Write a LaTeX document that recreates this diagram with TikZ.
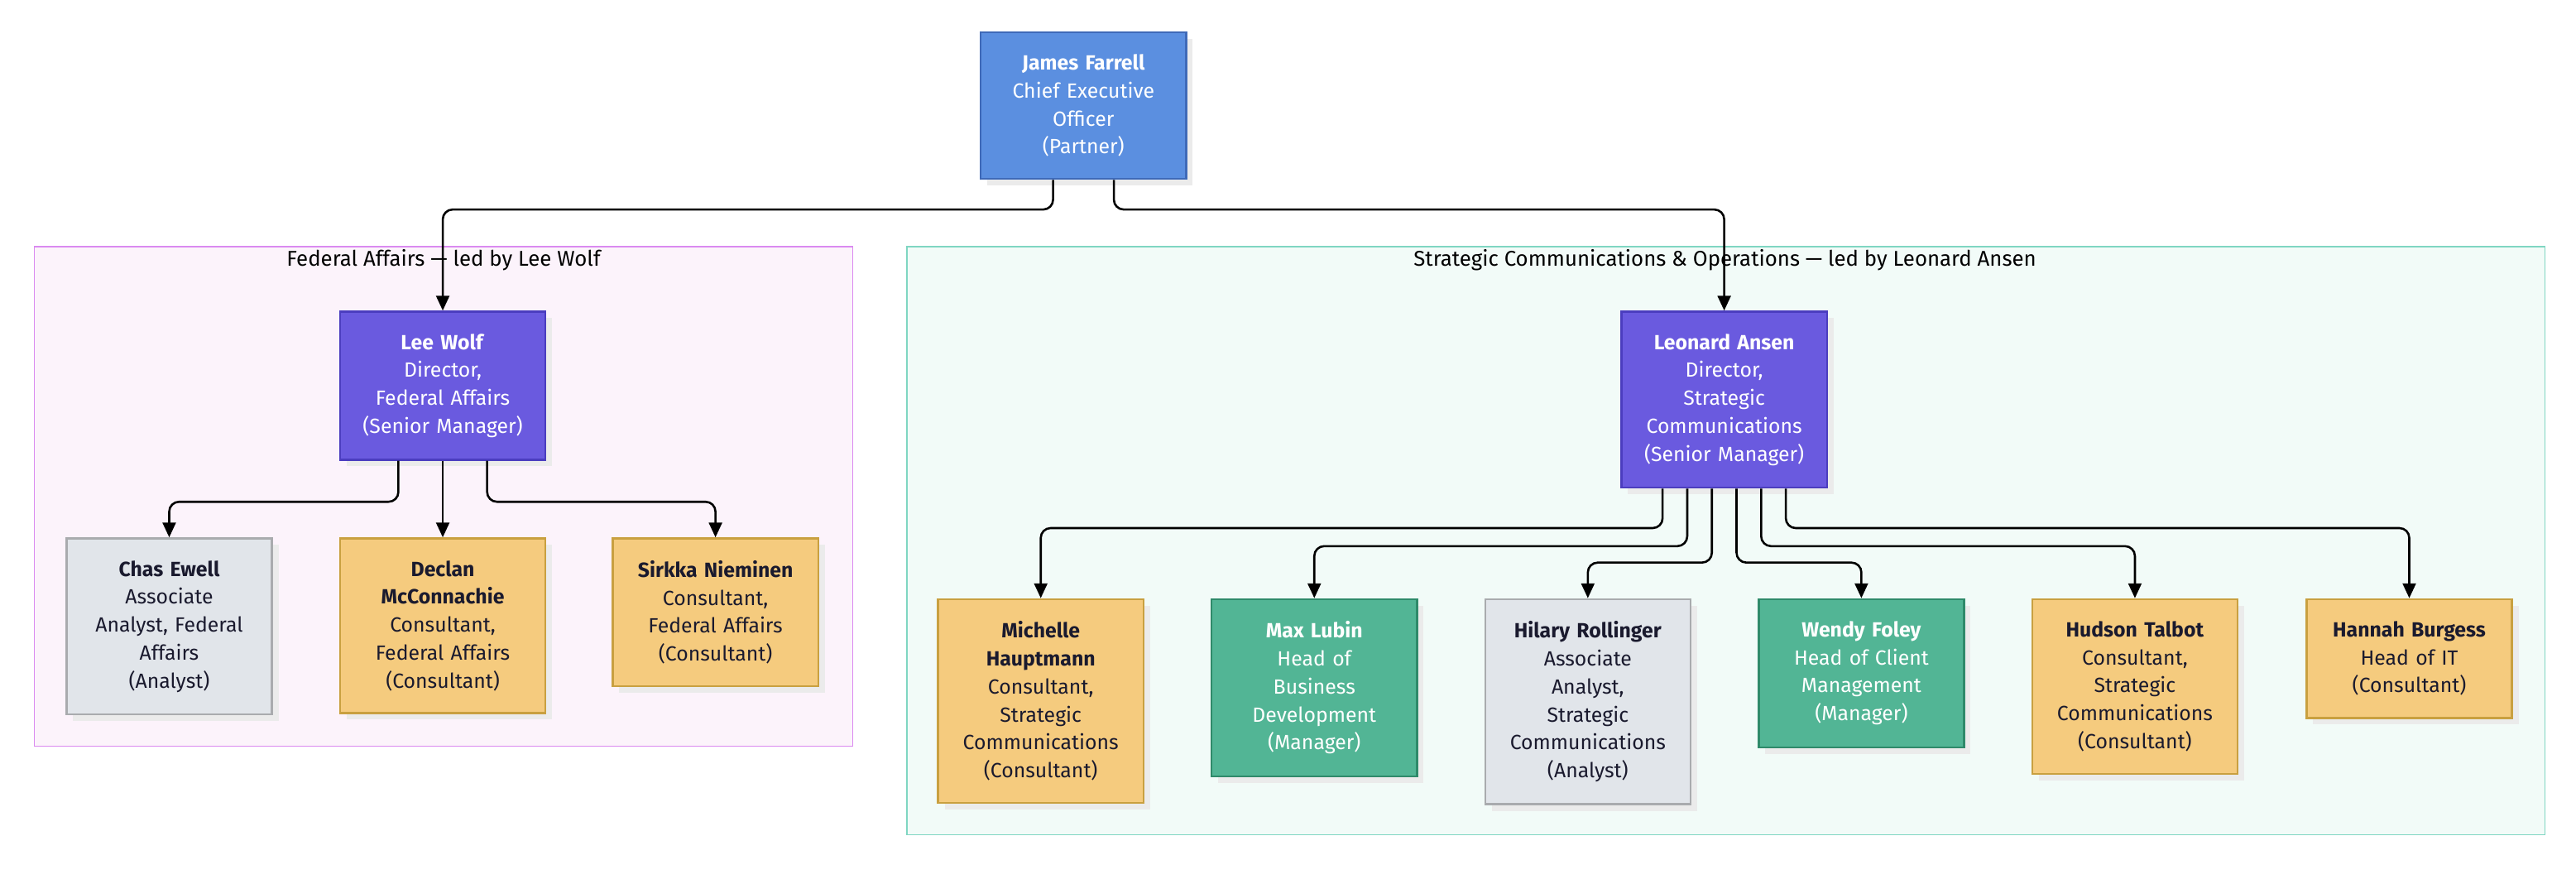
\documentclass[tikz,border=0pt]{standalone}
\usepackage{fontspec}
\setmainfont{Fira Sans}
\usetikzlibrary{arrows.meta,shadows}
\definecolor{ceoFill}{HTML}{5B8FE0}\definecolor{ceoLine}{HTML}{3F6AB8}
\definecolor{dirFill}{HTML}{6A5ADF}\definecolor{dirLine}{HTML}{4B3DBF}
\definecolor{anaFill}{HTML}{E1E5EA}\definecolor{anaLine}{HTML}{A9ABAE}
\definecolor{conFill}{HTML}{F5CB7E}\definecolor{conLine}{HTML}{C9A040}
\definecolor{mgrFill}{HTML}{52B595}\definecolor{mgrLine}{HTML}{2F8A6A}
\definecolor{fedFill}{HTML}{FCF3FB}\definecolor{fedLine}{HTML}{DA8AF0}
\definecolor{strFill}{HTML}{F2FBF8}\definecolor{strLine}{HTML}{7FD6C2}
\definecolor{ink}{HTML}{1A1A2E}
\tikzset{
  person/.style={draw, line width=1.2pt, anchor=north, minimum width=125pt,
    text width=116pt, align=center, inner ysep=13.5pt,
    font=\fontsize{12.5}{17}\selectfont,
    drop shadow={shadow xshift=4pt, shadow yshift=-4pt, fill=black!8, opacity=1}},
  ceo/.style={person, fill=ceoFill, draw=ceoLine, text=white},
  director/.style={person, fill=dirFill, draw=dirLine, text=white},
  analyst/.style={person, fill=anaFill, draw=anaLine, text=ink},
  consultant/.style={person, fill=conFill, draw=conLine, text=ink},
  manager/.style={person, fill=mgrFill, draw=mgrLine, text=white},
  link/.style={draw, line width=1.3pt, rounded corners=6pt, -{Triangle[length=9pt,width=8pt]}},
  cluster/.style={line width=0.8pt},
  clustertitle/.style={font=\fontsize{13}{15}\selectfont, text=black}
}
\begin{document}
\begin{tikzpicture}[x=1pt,y=-1pt]
  \useasboundingbox (0,0) rectangle (1568,537.5);

  % groups
  \draw[cluster, fill=fedFill, draw=fedLine] (21,150) rectangle (519,454);
  \node[clustertitle] (fedtitle) at (270,158) {Federal Affairs — led by Lee Wolf};
  \draw[cluster, fill=strFill, draw=strLine] (552,150) rectangle (1549,508);
  \node[clustertitle] (strtitle) at (1050,158) {Strategic Communications \& Operations — led by Leonard Ansen};

  % people
  \node[ceo] (james) at (659.5,19) {\textbf{James Farrell}\\Chief Executive\\Officer\\(Partner)};

  \node[director] (lee) at (269.5,189) {\textbf{Lee Wolf}\\Director,\\Federal Affairs\\(Senior Manager)};
  \node[analyst] (chas) at (103,327) {\textbf{Chas Ewell}\\Associate\\Analyst, Federal\\Affairs\\(Analyst)};
  \node[consultant] (declan) at (269.5,327) {\textbf{Declan}\\\textbf{McConnachie}\\Consultant,\\Federal Affairs\\(Consultant)};
  \node[consultant] (sirkka) at (435.5,327) {\textbf{Sirkka Nieminen}\\Consultant,\\Federal Affairs\\(Consultant)};

  \node[director] (leonard) at (1049.5,189) {\textbf{Leonard Ansen}\\Director,\\Strategic\\Communications\\(Senior Manager)};
  \node[consultant] (michelle) at (633.5,364) {\textbf{Michelle}\\\textbf{Hauptmann}\\Consultant,\\Strategic\\Communications\\(Consultant)};
  \node[manager] (max) at (800,364) {\textbf{Max Lubin}\\Head of\\Business\\Development\\(Manager)};
  \node[analyst] (hilary) at (966.5,364) {\textbf{Hilary Rollinger}\\Associate\\Analyst,\\Strategic\\Communications\\(Analyst)};
  \node[manager] (wendy) at (1133,364) {\textbf{Wendy Foley}\\Head of Client\\Management\\(Manager)};
  \node[consultant] (hudson) at (1299.5,364) {\textbf{Hudson Talbot}\\Consultant,\\Strategic\\Communications\\(Consultant)};
  \node[consultant] (hannah) at (1466.5,364) {\textbf{Hannah Burgess}\\Head of IT\\(Consultant)};

  % reporting lines
  \draw[link] ([xshift=-18.5pt]james.south) -- ++(0,18) -| (lee.north);
  \draw[link] ([xshift=18.5pt]james.south) -- ++(0,18) -| (leonard.north);

  \draw[link] ([xshift=-27pt]lee.south) -- ++(0,25) -| (chas.north);
  \draw[link] (lee.south) -- (declan.north);
  \draw[link] ([xshift=27pt]lee.south) -- ++(0,25) -| (sirkka.north);

  \draw[link] ([xshift=-37.5pt]leonard.south) -- ++(0,24) -| (michelle.north);
  \draw[link] ([xshift=-22.5pt]leonard.south) -- ++(0,35) -| (max.north);
  \draw[link] ([xshift=-7.5pt]leonard.south) -- ++(0,45) -| (hilary.north);
  \draw[link] ([xshift=7.5pt]leonard.south) -- ++(0,45) -| (wendy.north);
  \draw[link] ([xshift=22.5pt]leonard.south) -- ++(0,35) -| (hudson.north);
  \draw[link] ([xshift=37.5pt]leonard.south) -- ++(0,24) -| (hannah.north);
\end{tikzpicture}
\end{document}
